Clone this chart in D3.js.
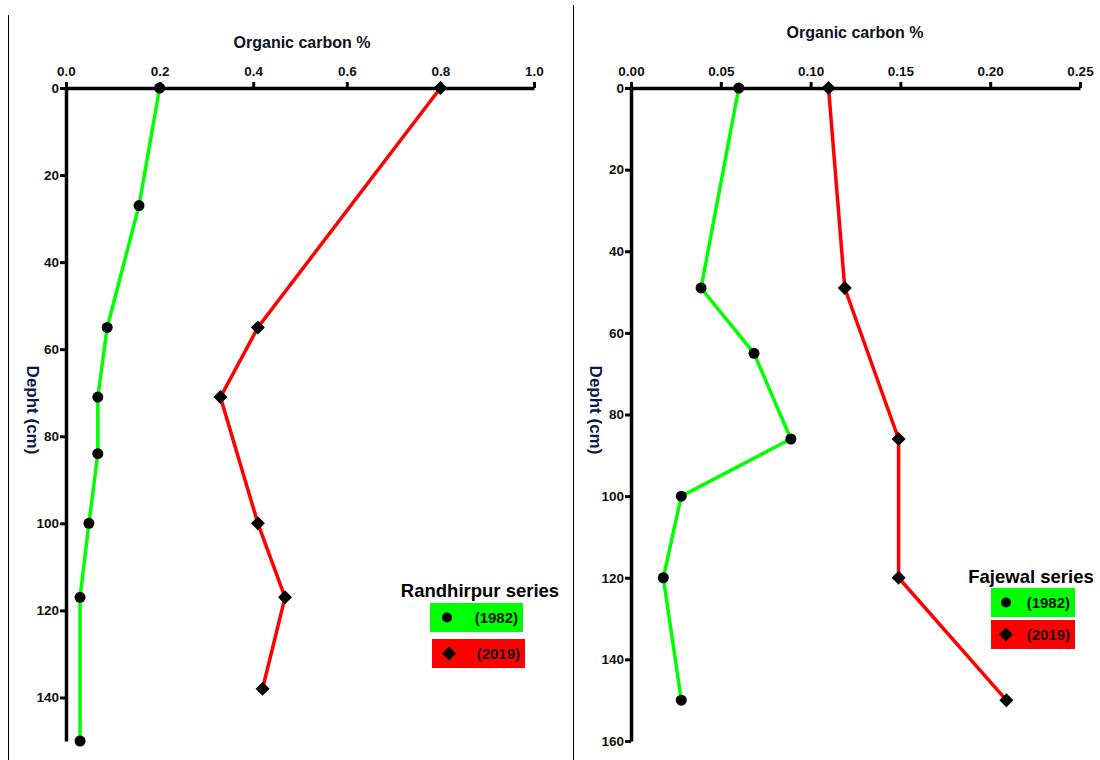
<!DOCTYPE html>
<html><head><meta charset="utf-8">
<script src="https://cdn.jsdelivr.net/npm/d3@7"></script>
<style>body{margin:0;background:#fff}svg{display:block}text{font-family:"Liberation Sans",Arial,sans-serif;font-weight:bold}</style>
</head><body><svg id="c" width="1100" height="760"></svg>
<script>
// Randhirpur series
const rDepth1982 = [0, 27, 55, 71, 84, 100, 117, 150];
const rOC1982    = [0.20, 0.156, 0.088, 0.068, 0.068, 0.049, 0.03, 0.03];
const rDepth2019 = [0, 55, 71, 100, 117, 138];
const rOC2019    = [0.80, 0.41, 0.33, 0.41, 0.468, 0.42];
const rXTicks = [0, 0.2, 0.4, 0.6, 0.8, 1.0];
const rYTicks = [0, 20, 40, 60, 80, 100, 120, 140];
// Fajewal series
const fDepth1982 = [0, 49, 65, 86, 100, 120, 150];
const fOC1982    = [0.06, 0.039, 0.0685, 0.089, 0.028, 0.018, 0.028];
const fDepth2019 = [0, 49, 86, 120, 150];
const fOC2019    = [0.11, 0.119, 0.149, 0.149, 0.209];
const fXTicks = [0, 0.05, 0.10, 0.15, 0.20, 0.25];
const fYTicks = [0, 20, 40, 60, 80, 100, 120, 140, 160];
const legendYears = ["(1982)", "(2019)"];

const svg = d3.select("#c");
// panel separators
svg.append("line").attr("x1",8.5).attr("x2",8.5).attr("y1",15).attr("y2",760).attr("stroke","#000").attr("stroke-width",1);
svg.append("line").attr("x1",573.5).attr("x2",573.5).attr("y1",5).attr("y2",760).attr("stroke","#000").attr("stroke-width",1);

function panel(o){
  const g = svg.append("g");
  const x = d3.scaleLinear().domain([0,o.xMax]).range([o.x0,o.x1]);
  const y = d3.scaleLinear().domain([0,o.yMax]).range([88,o.yBottom]);
  // top axis
  const xa = g.append("g").attr("transform","translate(0,88)")
    .call(d3.axisTop(x).tickValues(o.xTicks).tickFormat(d3.format(o.fmt)).tickSize(6).tickSizeOuter(0));
  const ya = g.append("g").attr("transform",`translate(${o.x0},0)`)
    .call(d3.axisLeft(y).tickValues(o.yTicks).tickSize(6).tickSizeOuter(0));
  [xa,ya].forEach(a=>{
    a.select(".domain").attr("stroke","#000").attr("stroke-width",3.5);
    a.selectAll(".tick line").attr("stroke","#000").attr("stroke-width",3);
    a.selectAll(".tick text").attr("fill","#111").style("font-size","13.5px").style("font-weight","bold");
  });
  xa.selectAll(".tick text").attr("dy","-0.25em");
  ya.selectAll(".tick text").attr("dx","0.15em");
  g.append("text").attr("x",o.titleX).attr("y",o.titleY).attr("text-anchor","middle")
    .style("font-size","16px").attr("fill","#0d1020").text("Organic carbon %");
  g.append("text").attr("transform",`translate(${o.ylabX},${o.ylabY}) rotate(90)`).attr("text-anchor","middle")
    .style("font-size","17px").attr("fill","#0a1a50").text("Depht (cm)");
  const line = d3.line().x(d=>x(d[0])).y(d=>y(d[1]));
  const s1 = o.oc1982.map((v,i)=>[v,o.d1982[i]]);
  const s2 = o.oc2019.map((v,i)=>[v,o.d2019[i]]);
  g.append("path").attr("d",line(s1)).attr("fill","none").attr("stroke","#00ff00").attr("stroke-width",3.5);
  g.append("path").attr("d",line(s2)).attr("fill","none").attr("stroke","#ff0000").attr("stroke-width",3.5);
  g.selectAll(".c").data(s1).join("circle").attr("cx",d=>x(d[0])).attr("cy",d=>y(d[1])).attr("r",5.5).attr("fill","#000");
  const dia = d3.symbol().type(d3.symbolDiamond2).size(125);
  g.selectAll(".dm").data(s2).join("path").attr("d",dia).attr("transform",d=>`translate(${x(d[0])},${y(d[1])})`).attr("fill","#000");
  // legend
  const L = o.legend;
  g.append("text").attr("x",L.cx).attr("y",L.ty).attr("text-anchor","middle").style("font-size","18.5px").attr("fill","#000").text(o.name);
  const cols = ["#00ff00","#ff0000"];
  legendYears.forEach((t,i)=>{
    const b = L.boxes[i];
    g.append("rect").attr("x",b[0]).attr("y",b[1]).attr("width",b[2]).attr("height",b[3]).attr("fill",cols[i]);
    const cy = b[1]+b[3]/2;
    if(i===0) g.append("circle").attr("cx",b[0]+L.mk).attr("cy",cy).attr("r",5).attr("fill","#000");
    else g.append("path").attr("d",dia).attr("transform",`translate(${b[0]+L.mk},${cy})`).attr("fill","#000");
    g.append("text").attr("x",b[0]+b[2]-5).attr("y",cy+5).attr("text-anchor","end").style("font-size","15px").attr("fill","#111").text(t);
  });
}

panel({name:"Randhirpur series", xMax:1.0, x0:66, x1:534, yMax:150, yBottom:741, xTicks:rXTicks, yTicks:rYTicks, fmt:".1f",
  oc1982:rOC1982, d1982:rDepth1982, oc2019:rOC2019, d2019:rDepth2019,
  titleX:302, titleY:48, ylabX:27, ylabY:410,
  legend:{cx:480, ty:597, mk:17, boxes:[[430,603,93,29],[432,639,93,29]]}});
panel({name:"Fajewal series", xMax:0.25, x0:631, x1:1080, yMax:160, yBottom:741, xTicks:fXTicks, yTicks:fYTicks, fmt:".2f",
  oc1982:fOC1982, d1982:fDepth1982, oc2019:fOC2019, d2019:fDepth2019,
  titleX:855, titleY:38, ylabX:590, ylabY:410,
  legend:{cx:1031, ty:583, mk:15, boxes:[[991,588,84,29],[991,620,84,29]]}});
</script></body></html>
